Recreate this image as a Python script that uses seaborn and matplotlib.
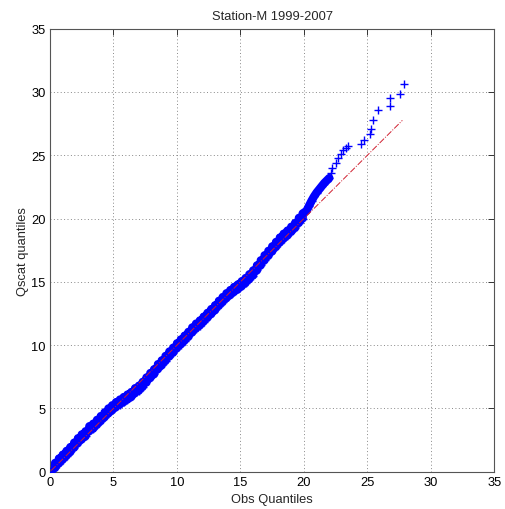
import matplotlib
matplotlib.use("Agg")
import matplotlib.pyplot as plt
import seaborn as sns
import pandas as pd

# Quantile pairs: observed wind speed quantiles vs QuikSCAT quantiles
obs_q = [
    0.1, 0.1, 0.4, 0.4, 0.7, 0.7, 1.0, 1.0, 1.3, 1.3,
    1.6, 1.6, 1.9, 1.9, 2.2, 2.2, 2.5, 2.5, 2.8, 2.8,
    3.1, 3.1, 3.4, 3.4, 3.7, 3.7, 4.0, 4.0, 4.3, 4.3,
    4.6, 4.6, 4.9, 4.9, 5.2, 5.2, 5.5, 5.5, 5.8, 5.8,
    6.1, 6.1, 6.4, 6.4, 6.7, 6.7, 7.0, 7.0, 7.3, 7.3,
    7.6, 7.6, 7.9, 7.9, 8.2, 8.2, 8.5, 8.5, 8.8, 8.8,
    9.1, 9.1, 9.4, 9.4, 9.7, 9.7, 10.0, 10.0, 10.3, 10.3,
    10.6, 10.6, 10.9, 10.9, 11.2, 11.2, 11.5, 11.5, 11.8, 11.8,
    12.1, 12.1, 12.4, 12.4, 12.7, 12.7, 13.0, 13.0, 13.3, 13.3,
    13.6, 13.6, 13.9, 13.9, 14.2, 14.2, 14.5, 14.5, 14.8, 14.8,
    15.1, 15.1, 15.4, 15.4, 15.7, 15.7, 16.0, 16.0, 16.3, 16.3,
    16.6, 16.6, 16.9, 16.9, 17.2, 17.2, 17.5, 17.5, 17.8, 17.8,
    18.1, 18.1, 18.4, 18.4, 18.7, 18.7, 19.0, 19.0, 19.3, 19.3,
    19.6, 19.6, 19.9, 19.9,
    20.2, 20.4, 20.5, 20.6, 20.8, 21.0, 21.2, 21.4, 21.6, 21.8,
    22.0, 22.1, 22.2, 22.5, 22.7, 22.9, 23.1, 23.3, 23.5, 24.5,
    24.7, 25.2, 25.3, 25.4, 25.8, 26.8, 26.8, 27.6, 27.85,
]
qscat_q = [
    0.0, 0.3, 0.3, 0.7, 0.65, 1.05, 0.95, 1.35, 1.25, 1.65,
    1.55, 1.95, 1.9, 2.3, 2.25, 2.65, 2.55, 2.95, 2.8, 3.2,
    3.2, 3.6, 3.4, 3.8, 3.7, 4.1, 4.0, 4.4, 4.3, 4.7,
    4.6, 5.0, 4.85, 5.25, 5.1, 5.5, 5.3, 5.7, 5.5, 5.9,
    5.7, 6.1, 5.9, 6.3, 6.2, 6.6, 6.4, 6.8, 6.7, 7.1,
    7.05, 7.45, 7.4, 7.8, 7.7, 8.1, 8.1, 8.5, 8.4, 8.8,
    8.75, 9.15, 9.1, 9.5, 9.4, 9.8, 9.75, 10.15, 10.05, 10.45,
    10.35, 10.75, 10.65, 11.05, 11.0, 11.4, 11.3, 11.7, 11.55, 11.95,
    11.85, 12.25, 12.15, 12.55, 12.45, 12.85, 12.75, 13.15, 13.1, 13.5,
    13.4, 13.8, 13.7, 14.1, 13.95, 14.35, 14.2, 14.6, 14.4, 14.8,
    14.65, 15.05, 14.9, 15.3, 15.2, 15.6, 15.5, 15.9, 15.9, 16.3,
    16.3, 16.7, 16.7, 17.1, 17.05, 17.45, 17.4, 17.8, 17.75, 18.15,
    18.1, 18.5, 18.4, 18.8, 18.65, 19.05, 18.95, 19.35, 19.25, 19.65,
    19.65, 20.05, 20.0, 20.4,
    20.6, 21.0, 21.2, 21.4, 21.75, 22.05, 22.3, 22.55, 22.8, 23.0,
    23.2, 23.6, 24.0, 24.4, 24.8, 25.1, 25.4, 25.6, 25.7, 25.9,
    26.2, 26.7, 27.1, 27.8, 28.6, 28.9, 29.5, 29.8, 30.6,
]

ticks = [0, 5, 10, 15, 20, 25, 30, 35]
title = "Station-M 1999-2007"
xlabel = "Obs Quantiles"
ylabel = "Qscat quantiles"

df = pd.DataFrame({"obs": obs_q, "qscat": qscat_q})
# the densely packed part of the sample, where the markers merge into a band
dense = df[df["obs"] <= 22.0]

sns.set_style("white")
plt.rcParams["font.family"] = ["Liberation Sans", "DejaVu Sans"]

fig = plt.figure(figsize=(5.05, 5.10), dpi=100)
ax = fig.add_axes([0.099, 0.073, 0.880, 0.869])

sns.lineplot(data=dense, x="obs", y="qscat", estimator=None, sort=False,
             color="blue", linewidth=6.0, ax=ax)
band = ax.lines[-1]
band.set_solid_capstyle("round")
band.set_solid_joinstyle("round")
band.set_zorder(2)

sns.scatterplot(data=df, x="obs", y="qscat", marker="+", s=38,
                color="blue", linewidth=1.0, ax=ax, zorder=3)

# reference line over the observed range
xmin, xmax = min(obs_q), max(obs_q) - 0.1
ref = pd.DataFrame({"x": [xmin, xmax], "y": [xmin, xmax]})
sns.lineplot(data=ref, x="x", y="y", color="#d02030", linewidth=0.7,
             linestyle="-.", ax=ax)
ax.lines[-1].set_zorder(5)

ax.set_xlim(0, 35)
ax.set_ylim(0, 35)
ax.set_xticks(ticks)
ax.set_yticks(ticks)
ax.set_xticklabels([str(t) for t in ticks])
ax.set_yticklabels([str(t) for t in ticks])
ax.grid(True, linestyle=(0, (1, 2.5)), color="#888888", linewidth=0.7)
ax.tick_params(direction="in", length=4, width=0.7, top=True, right=True,
               labelsize=9.3, colors="#333333", labelcolor="black", pad=3)
for sp in ax.spines.values():
    sp.set_color("#555555")
    sp.set_linewidth(0.8)

ax.set_title(title, fontsize=9.3, pad=7)
ax.set_xlabel(xlabel, fontsize=9.3, labelpad=4)
ax.set_ylabel(ylabel, fontsize=9.3, labelpad=1.5)

fig.savefig("out.png", dpi=100)
